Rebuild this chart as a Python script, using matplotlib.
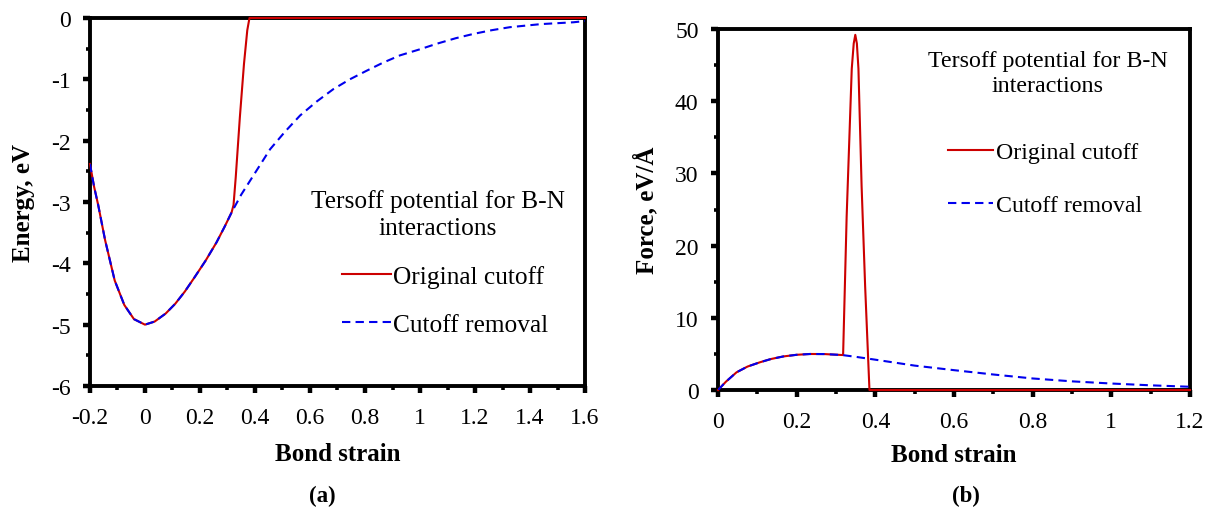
import matplotlib
matplotlib.use("Agg")
import matplotlib.pyplot as plt
from matplotlib.ticker import MultipleLocator

plt.rcParams["font.family"] = ["Liberation Serif", "DejaVu Serif"]

# (a) energy vs bond strain
strain_common_a = [-0.2, -0.185, -0.17, -0.145, -0.11, -0.075, -0.04, 0.0, 0.035,
                   0.075, 0.11, 0.145, 0.18, 0.22, 0.26, 0.29, 0.315]
energy_common = [-2.38, -2.75, -3.05, -3.62, -4.28, -4.68, -4.91, -5.0, -4.95,
                 -4.82, -4.66, -4.46, -4.23, -3.96, -3.66, -3.40, -3.17]

strain_cut_a = [0.322, 0.33, 0.345, 0.36, 0.372, 0.38, 1.6]
energy_cut = [-3.05, -2.6, -1.62, -0.75, -0.2, 0.0, 0.0]

strain_rem_a = [0.35, 0.394, 0.455, 0.51, 0.564, 0.625, 0.685, 0.745, 0.806, 0.865,
                0.927, 1.0, 1.061, 1.13, 1.194, 1.26, 1.327, 1.44, 1.558, 1.6]
energy_rem = [-2.88, -2.57, -2.14, -1.85, -1.59, -1.36, -1.16, -1.0, -0.86, -0.73,
              -0.61, -0.51, -0.42, -0.33, -0.26, -0.20, -0.15, -0.10, -0.07, -0.05]

# (b) force vs bond strain
strain_common_b = [0.0, 0.02, 0.047, 0.075, 0.107, 0.135, 0.166, 0.2, 0.234, 0.27, 0.315]
force_common = [0.0, 1.15, 2.45, 3.25, 3.85, 4.3, 4.65, 4.88, 4.99, 4.98, 4.85]

strain_cut_b = [0.318, 0.327, 0.34, 0.345, 0.349, 0.353, 0.357, 0.365, 0.374, 0.385, 1.2]
force_cut = [4.85, 24.0, 44.5, 48.0, 49.2, 48.0, 44.5, 28.3, 14.4, 0.0, 0.0]

strain_rem_b = [0.35, 0.4, 0.5, 0.6, 0.7, 0.8, 0.9, 1.0, 1.1, 1.2]
force_rem = [4.6, 4.2, 3.38, 2.75, 2.15, 1.6, 1.2, 0.9, 0.65, 0.45]

xticks_a = [-0.2, 0, 0.2, 0.4, 0.6, 0.8, 1, 1.2, 1.4, 1.6]
yticks_a = [-6, -5, -4, -3, -2, -1, 0]
xticks_b = [0, 0.2, 0.4, 0.6, 0.8, 1, 1.2]
yticks_b = [0, 10, 20, 30, 40, 50]

title_text = "Tersoff potential for B-N\ninteractions"
red = "#cc0000"
blue = "#0000ee"

fig = plt.figure(figsize=(12.09, 5.10), dpi=100)
ax1 = fig.add_axes([0.0744, 0.2412, 0.4095, 0.7216])
ax2 = fig.add_axes([0.5939, 0.2333, 0.3904, 0.7078])


def style_axes(ax, xticks, yticks):
    ax.set_xticks(xticks)
    ax.set_xticklabels([f"{t:g}" for t in xticks])
    ax.set_yticks(yticks)
    ax.set_yticklabels([f"{t:g}" for t in yticks])
    for s in ax.spines.values():
        s.set_linewidth(2.8)
    ax.tick_params(which="major", direction="out", length=5, width=3.2,
                   labelsize=17)
    ax.tick_params(axis="x", which="major", pad=10)
    ax.tick_params(axis="y", which="major", pad=9)
    ax.tick_params(which="minor", direction="out", length=3.2, width=2.6)


# panel a
ax1.plot(strain_common_a + strain_cut_a, energy_common + energy_cut, color=red,
         lw=1.5, label="Original cutoff", clip_on=False, zorder=3)
ax1.plot(strain_common_a + strain_rem_a, energy_common + energy_rem, color=blue,
         lw=1.5, ls=(0, (4, 2.5)), label="Cutoff removal", zorder=4)
ax1.set_xlim(-0.2, 1.6)
ax1.set_ylim(-6, 0)
style_axes(ax1, xticks_a, yticks_a)
ax1.xaxis.set_minor_locator(MultipleLocator(0.1))
ax1.yaxis.set_minor_locator(MultipleLocator(0.5))
ax1.set_xlabel("Bond strain", fontsize=18, fontweight="bold", labelpad=10)
ax1.set_ylabel("Energy, eV", fontsize=18, fontweight="bold", labelpad=11)
ax1.text(0.703, 0.467, title_text, transform=ax1.transAxes, ha="center",
         va="center", fontsize=18.3, linespacing=1.25)
ax1.legend(loc="center left", bbox_to_anchor=(0.51, 0.232), frameon=False,
           fontsize=18.3, handlelength=1.9, handletextpad=0.1, labelspacing=1.0,
           borderpad=0, borderaxespad=0)

# panel b
ax2.plot(strain_common_b + strain_cut_b, force_common + force_cut, color=red,
         lw=1.5, label="Original cutoff", clip_on=False, zorder=3)
ax2.plot(strain_common_b + strain_rem_b, force_common + force_rem, color=blue,
         lw=1.5, ls=(0, (4, 2.5)), label="Cutoff removal", zorder=4)
ax2.set_xlim(0, 1.2)
ax2.set_ylim(0, 50)
style_axes(ax2, xticks_b, yticks_b)
ax2.xaxis.set_minor_locator(MultipleLocator(0.1))
ax2.yaxis.set_minor_locator(MultipleLocator(5))
ax2.set_xlabel("Bond strain", fontsize=18, fontweight="bold", labelpad=8)
ax2.set_ylabel("Force, eV/Å", fontsize=18, fontweight="bold", labelpad=12)
ax2.text(0.699, 0.878, title_text, transform=ax2.transAxes, ha="center",
         va="center", fontsize=17.3, linespacing=1.3)
ax2.legend(loc="center left", bbox_to_anchor=(0.487, 0.5845), frameon=False,
           fontsize=17.2, handlelength=1.9, handletextpad=0.1, labelspacing=1.3,
           borderpad=0, borderaxespad=0)

fig.text(322 / 1209, 1 - 496 / 510, "(a)", ha="center", va="center",
         fontsize=16.5, fontweight="bold")
fig.text(966 / 1209, 1 - 496 / 510, "(b)", ha="center", va="center",
         fontsize=16.5, fontweight="bold")

fig.savefig("out.png", dpi=100)
